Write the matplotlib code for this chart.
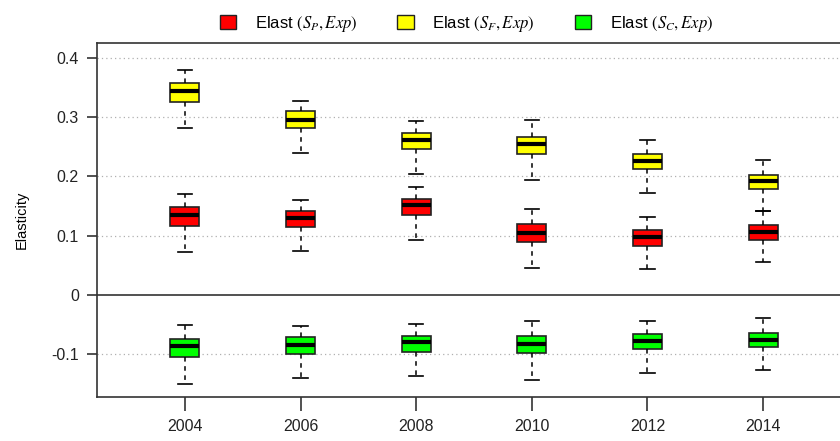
import matplotlib
matplotlib.use("Agg")
import matplotlib.pyplot as plt
from matplotlib.patches import Patch

plt.rcParams["font.family"] = ["Liberation Sans", "DejaVu Sans"]
plt.rcParams["mathtext.fontset"] = "stix"

years = [2004, 2006, 2008, 2010, 2012, 2014]

# five-number summaries per year: lower whisker, Q1, median, Q3, upper whisker
sp_low = [0.072, 0.074, 0.092, 0.045, 0.044, 0.055]
sp_q1 = [0.117, 0.115, 0.134, 0.089, 0.083, 0.092]
sp_med = [0.135, 0.129, 0.151, 0.105, 0.098, 0.106]
sp_q3 = [0.148, 0.142, 0.161, 0.119, 0.109, 0.118]
sp_high = [0.171, 0.160, 0.182, 0.145, 0.132, 0.141]

sf_low = [0.281, 0.240, 0.204, 0.194, 0.172, 0.141]
sf_q1 = [0.326, 0.282, 0.246, 0.238, 0.212, 0.178]
sf_med = [0.345, 0.296, 0.262, 0.254, 0.226, 0.192]
sf_q3 = [0.357, 0.310, 0.273, 0.267, 0.238, 0.202]
sf_high = [0.380, 0.328, 0.293, 0.295, 0.262, 0.228]

sc_low = [-0.150, -0.141, -0.137, -0.144, -0.132, -0.127]
sc_q1 = [-0.105, -0.100, -0.097, -0.099, -0.092, -0.089]
sc_med = [-0.086, -0.085, -0.080, -0.083, -0.078, -0.076]
sc_q3 = [-0.075, -0.072, -0.069, -0.069, -0.066, -0.064]
sc_high = [-0.051, -0.053, -0.049, -0.044, -0.044, -0.040]

series = [
    (r"Elast $(S_P, Exp)$", "#ff0000", sp_low, sp_q1, sp_med, sp_q3, sp_high),
    (r"Elast $(S_F, Exp)$", "#ffff00", sf_low, sf_q1, sf_med, sf_q3, sf_high),
    (r"Elast $(S_C, Exp)$", "#00ff00", sc_low, sc_q1, sc_med, sc_q3, sc_high),
]

fig = plt.figure(figsize=(8.4, 4.41), dpi=100)
ax = fig.add_axes([0.1155, 0.0998, 0.8845, 0.8027])

for y in [-0.1, 0.1, 0.2, 0.3, 0.4]:
    ax.axhline(y, color="#b0b0b0", linestyle=(0, (1, 2.5)), linewidth=0.9, zorder=0)
ax.axhline(0, color="#333333", linewidth=1.2, zorder=1)

handles = []
for label, color, lo, q1, med, q3, hi in series:
    stats = [
        {"whislo": lo[i], "q1": q1[i], "med": med[i], "q3": q3[i], "whishi": hi[i]}
        for i in range(len(years))
    ]
    ax.bxp(
        stats,
        positions=years,
        widths=0.5,
        showfliers=False,
        patch_artist=True,
        boxprops=dict(facecolor=color, edgecolor="#222222", linewidth=1.2),
        medianprops=dict(color="black", linewidth=3),
        whiskerprops=dict(color="black", linestyle=(0, (3, 3)), linewidth=1.1),
        capprops=dict(color="black", linewidth=1.2),
        capwidths=0.25,
        manage_ticks=False,
    )
    handles.append(Patch(facecolor=color, edgecolor="#222222", linewidth=1.0, label=label))

ax.set_xlim(2002.48, 2015.33)
ax.set_ylim(-0.1727, 0.4254)
ax.set_xticks(years)
ax.set_yticks([-0.1, 0, 0.1, 0.2, 0.3, 0.4])
ax.set_yticklabels(["-0.1", "0", "0.1", "0.2", "0.3", "0.4"])
ax.tick_params(axis="both", labelsize=11.5, colors="#222222", width=1.1)
ax.tick_params(axis="y", length=7, pad=6)
ax.tick_params(axis="x", length=10, pad=6)
ax.spines["right"].set_visible(False)
for s in ["left", "bottom", "top"]:
    ax.spines[s].set_linewidth(1.2)
    ax.spines[s].set_color("#333333")
ax.set_ylabel("Elasticity", fontsize=10.5, labelpad=16)

fig.legend(
    handles=handles,
    loc="upper center",
    bbox_to_anchor=(0.555, 1.003),
    ncol=3,
    frameon=False,
    fontsize=12,
    handlelength=1.0,
    handleheight=1.0,
    handletextpad=1.1,
    columnspacing=2.4,
)

fig.savefig("out.png", dpi=100)
plt.close(fig)
